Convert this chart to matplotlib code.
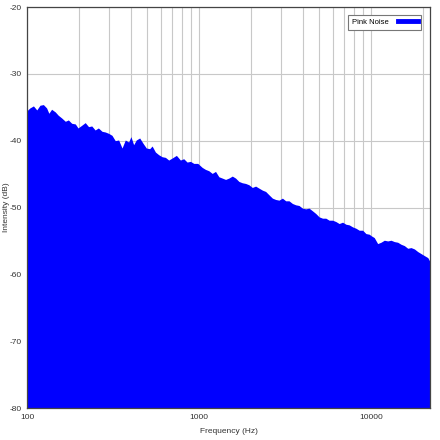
import numpy as np
import matplotlib.pyplot as plt
from matplotlib.lines import Line2D

# top edge of the pink noise spectrum
freq = [100, 101, 104, 109, 114, 119, 124.5, 130, 134, 139, 146, 152, 159, 167, 174, 182, 191, 198,
        208, 218, 228, 238, 249, 260, 273, 285, 298, 312, 326, 341, 357, 373, 390, 402, 417, 432,
        452, 473, 494, 517, 534, 558, 583, 610, 638, 667, 698, 739, 780, 815, 853, 892, 933, 984,
        1044, 1091, 1141, 1194, 1248, 1305, 1366, 1428, 1492, 1562, 1632, 1707, 1786, 1867, 1952,
        2043, 2135, 2232, 2337, 2442, 2553, 2673, 2793, 2920, 3056, 3195, 3339, 3495, 3653, 3818,
        3997, 4178, 4368, 4571, 4778, 4995, 5229, 5465, 5713, 5980, 6251, 6534, 6839, 7149, 7472,
        7823, 8176, 8548, 8945, 9350, 9775, 10000, 10452, 10940, 11437, 11956, 12514, 13083, 13676,
        14312, 14956, 15636, 16368, 17110, 17885, 18722, 19567, 20460, 21412, 22080, 22050]
level = [-35.6, -35.4, -35.1, -34.8, -35.4, -34.7, -34.6, -35.1, -35.9, -35.3, -35.7, -36.2, -36.6,
         -37.1, -36.9, -37.4, -37.5, -38.1, -37.7, -37.3, -37.9, -37.8, -38.4, -38.1, -38.6, -38.7,
         -38.9, -39.2, -40.0, -39.9, -41.1, -39.9, -40.2, -39.4, -40.6, -39.9, -39.6, -40.4, -41.1,
         -41.2, -40.8, -41.7, -42.1, -42.4, -42.5, -42.9, -42.6, -42.2, -42.9, -42.7, -43.2, -43.1,
         -43.4, -43.4, -44.0, -44.3, -44.5, -44.9, -44.6, -45.4, -45.6, -45.8, -45.6, -45.3, -45.6,
         -46.1, -46.3, -46.4, -46.6, -47.0, -46.8, -47.1, -47.4, -47.6, -48.1, -48.6, -48.8, -48.9,
         -48.6, -49.0, -49.0, -49.4, -49.6, -49.7, -50.1, -50.2, -50.1, -50.5, -50.9, -51.4, -51.6,
         -51.6, -51.9, -51.9, -52.1, -52.4, -52.2, -52.5, -52.6, -52.9, -53.1, -53.4, -53.4, -53.9,
         -54.0, -54.2, -54.5, -55.4, -55.2, -54.9, -55.0, -54.9, -55.1, -55.2, -55.5, -55.7, -56.1,
         -56.0, -56.2, -56.6, -56.9, -57.2, -57.5, -58.1, -58.1]
freq, level = zip(*sorted(zip(freq, level)))

plt.rcParams['font.family'] = ['Liberation Sans', 'DejaVu Sans']
plt.rcParams['axes.unicode_minus'] = False

fig = plt.figure(figsize=(4.4, 4.4), dpi=100)
ax = fig.add_axes([27/440, 32/440, 403/440, 401/440])

ax.fill_between(freq, -80, level, color='#0000ff', lw=0, zorder=2)

ax.set_xscale('log')
ax.set_xlim(100, 22050)
ax.set_ylim(-80, -20)
ax.set_xticks([100, 1000, 10000])
ax.set_xticklabels(['100', '1000', '10000'])
ax.set_xticks([m * d for d in [100, 1000, 10000] for m in range(2, 10) if m * d < 22050], minor=True)
ax.tick_params(which='minor', length=0, labelbottom=False)
ax.tick_params(which='major', length=0, labelsize=6, colors='#333333', pad=4)
ax.set_yticks(range(-80, -19, 10))
ax.grid(True, which='both', color='#c8c8c8', lw=0.8, zorder=1)
ax.set_axisbelow(True)
for s in ax.spines.values():
    s.set_color('#444444')
    s.set_linewidth(0.9)

ax.set_xlabel('Frequency (Hz)', fontsize=6, color='#333333', labelpad=5)
ax.set_ylabel('Intensity (dB)', fontsize=6, color='#333333', va='center')
ax.yaxis.set_label_coords(-0.052, 0.5)

h = Line2D([], [], color='#0000ff', lw=3.5)
leg = ax.legend([h], ['Pink Noise'], loc='upper right', fontsize=5.5, markerfirst=False,
                fancybox=False, framealpha=1, edgecolor='#777777', handlelength=2.6,
                borderpad=0.5, handletextpad=1.2, bbox_to_anchor=(0.988, 0.99))
leg.get_frame().set_linewidth(0.8)

fig.savefig('out.png', dpi=100)
